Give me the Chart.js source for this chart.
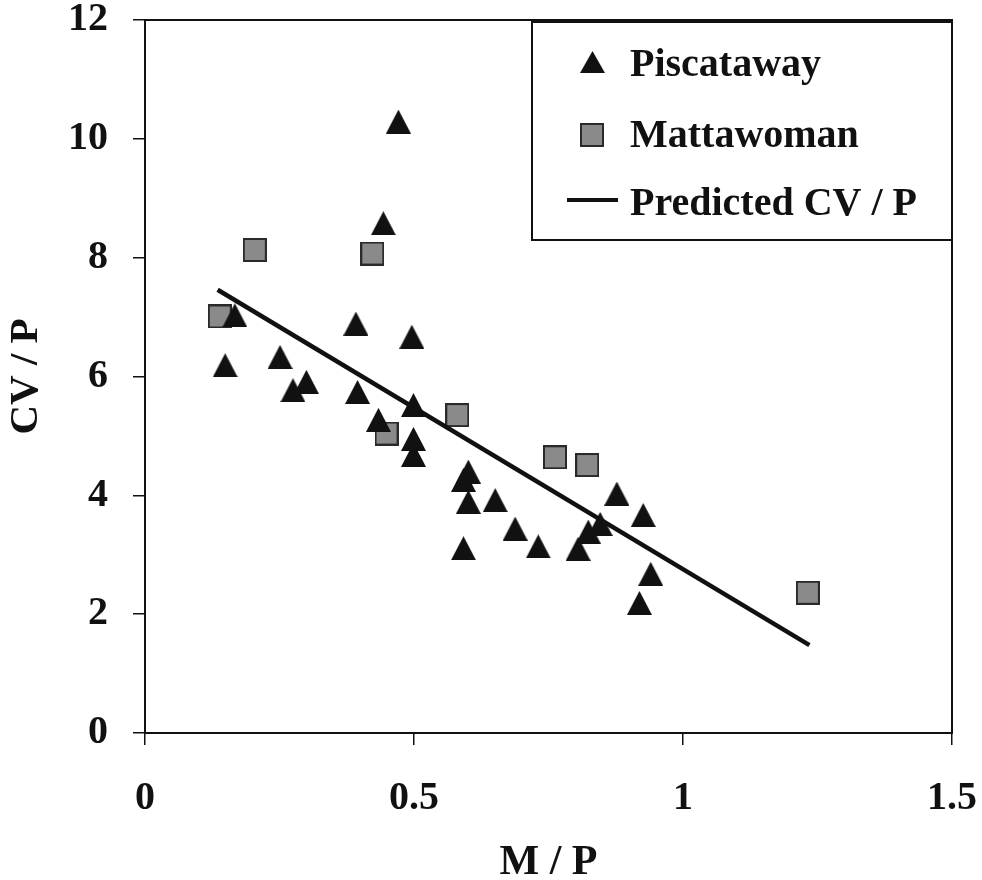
<!DOCTYPE html>
<html>
<head>
<meta charset="utf-8">
<title>CV / P vs M / P</title>
<script src="https://cdn.jsdelivr.net/npm/chart.js@4.4.1/dist/chart.umd.min.js"></script>
<style>
  html, body { margin: 0; padding: 0; background: #fff; }
  canvas { display: block; }
</style>
</head>
<body>
<canvas id="scatterChart" width="982" height="880"></canvas>
<script>
// Piscataway sites
const piscatawayX = [0.471, 0.443, 0.167, 0.392, 0.496, 0.149, 0.251, 0.300, 0.275, 0.395,
                     0.434, 0.499, 0.499, 0.499, 0.601, 0.592, 0.601, 0.651, 0.688, 0.592,
                     0.731, 0.877, 0.926, 0.846, 0.824, 0.805, 0.940, 0.919];
const piscatawayY = [10.29, 8.58, 7.03, 6.89, 6.67, 6.19, 6.33, 5.91, 5.77, 5.74,
                     5.27, 5.52, 4.95, 4.68, 4.40, 4.26, 3.89, 3.92, 3.44, 3.11,
                     3.14, 4.03, 3.67, 3.52, 3.39, 3.10, 2.68, 2.19];

// Mattawoman sites
const mattawomanX = [0.139, 0.204, 0.4225, 0.449, 0.5805, 0.762, 0.822, 1.232];
const mattawomanY = [7.01, 8.13, 8.07, 5.04, 5.35, 4.64, 4.51, 2.36];

// fitted line end points
const predictedX = [0.135, 1.235];
const predictedY = [7.46, 1.48];

const xTicks = [0, 0.5, 1, 1.5];
const yTicks = [0, 2, 4, 6, 8, 10, 12];

const FONT = '"Liberation Serif", "Times New Roman", serif';

function toPoints(xs, ys) {
  return xs.map((x, i) => ({ x: x, y: ys[i] }));
}

function makeTriangle(w, h) {
  const c = document.createElement('canvas');
  c.width = w; c.height = h;
  const g = c.getContext('2d');
  g.fillStyle = '#111';
  g.beginPath();
  g.moveTo(w / 2, 0);
  g.lineTo(w, h);
  g.lineTo(0, h);
  g.closePath();
  g.fill();
  return c;
}

function makeSquare(s) {
  const c = document.createElement('canvas');
  c.width = s; c.height = s;
  const g = c.getContext('2d');
  g.fillStyle = '#8a8a8a';
  g.fillRect(0, 0, s, s);
  g.strokeStyle = '#2a2a2a';
  g.lineWidth = 2;
  g.strokeRect(1, 1, s - 2, s - 2);
  return c;
}

const triMark = makeTriangle(25, 24);
const sqMark = makeSquare(24);

// box around the plot plus the legend in the top right corner
const framePlugin = {
  id: 'frame',
  afterDraw(chart) {
    const { ctx, chartArea: a } = chart;
    ctx.save();
    ctx.strokeStyle = '#111';
    ctx.lineWidth = 2;
    ctx.strokeRect(a.left, a.top, a.right - a.left, a.bottom - a.top);

    const bx = a.right - 420, by = a.top + 2, bw = 420, bh = 218;
    ctx.fillStyle = '#fff';
    ctx.fillRect(bx, by, bw, bh);
    ctx.strokeRect(bx, by, bw, bh);

    ctx.font = 'bold 40px ' + FONT;
    ctx.fillStyle = '#111';
    ctx.textBaseline = 'alphabetic';
    ctx.textAlign = 'left';
    const tx = bx + 98;
    const sets = chart.data.datasets;

    ctx.drawImage(triMark, bx + 48, by + 29, 25, 22);
    ctx.fillText(sets[0].label, tx, by + 54);

    ctx.drawImage(sqMark, bx + 48, by + 101);
    ctx.fillText(sets[1].label, tx, by + 125);

    ctx.lineWidth = 4;
    ctx.beginPath();
    ctx.moveTo(bx + 35, by + 178);
    ctx.lineTo(bx + 86, by + 178);
    ctx.stroke();
    ctx.fillText(sets[2].label, tx, by + 193);
    ctx.restore();
  }
};

const ctx = document.getElementById('scatterChart').getContext('2d');
const chart = new Chart(ctx, {
  type: 'scatter',
  data: {
    datasets: [
      {
        label: 'Piscataway',
        data: toPoints(piscatawayX, piscatawayY),
        pointStyle: triMark,
        order: 2
      },
      {
        label: 'Mattawoman',
        data: toPoints(mattawomanX, mattawomanY),
        pointStyle: sqMark,
        order: 3
      },
      {
        label: 'Predicted CV / P',
        data: toPoints(predictedX, predictedY),
        showLine: true,
        borderColor: '#111',
        borderWidth: 4.5,
        pointRadius: 0,
        pointHoverRadius: 0,
        order: 1
      }
    ]
  },
  options: {
    responsive: false,
    animation: false,
    events: [],
    layout: { padding: { top: 20, right: 30, left: 0, bottom: 0 } },
    plugins: {
      legend: { display: false },
      tooltip: { enabled: false }
    },
    scales: {
      x: {
        type: 'linear',
        min: 0,
        max: 1.5,
        afterFit(scale) {
          scale.height = 147;
          scale.paddingLeft = 0;
          scale.paddingRight = 0;
        },
        afterBuildTicks(scale) { scale.ticks = xTicks.map(v => ({ value: v })); },
        border: { display: true, color: '#111', width: 2 },
        grid: { drawOnChartArea: false, drawTicks: true, tickLength: 12, color: '#111', lineWidth: 1.5 },
        ticks: {
          color: '#111',
          padding: 30,
          maxRotation: 0,
          font: { family: FONT, size: 40, weight: 'bold' },
          callback: v => String(v)
        },
        title: {
          display: true,
          text: 'M / P',
          color: '#111',
          padding: { top: 0, bottom: 0 },
          font: { family: FONT, size: 42, weight: 'bold', lineHeight: 0.8 }
        }
      },
      y: {
        type: 'linear',
        min: 0,
        max: 12,
        afterFit(scale) {
          scale.width = 145;
          scale.paddingTop = 0;
          scale.paddingBottom = 0;
        },
        afterBuildTicks(scale) { scale.ticks = yTicks.map(v => ({ value: v })); },
        border: { display: true, color: '#111', width: 2 },
        grid: { drawOnChartArea: false, drawTicks: true, tickLength: 12, color: '#111', lineWidth: 1.5 },
        ticks: {
          color: '#111',
          padding: 25,
          font: { family: FONT, size: 40, weight: 'bold', lineHeight: 1.0 },
          callback: v => String(v)
        },
        title: {
          display: true,
          text: 'CV / P',
          color: '#111',
          padding: { top: 2, bottom: 0 },
          font: { family: FONT, size: 41, weight: 'bold', lineHeight: 1.2 }
        }
      }
    }
  },
  plugins: [framePlugin]
});
</script>
</body>
</html>
